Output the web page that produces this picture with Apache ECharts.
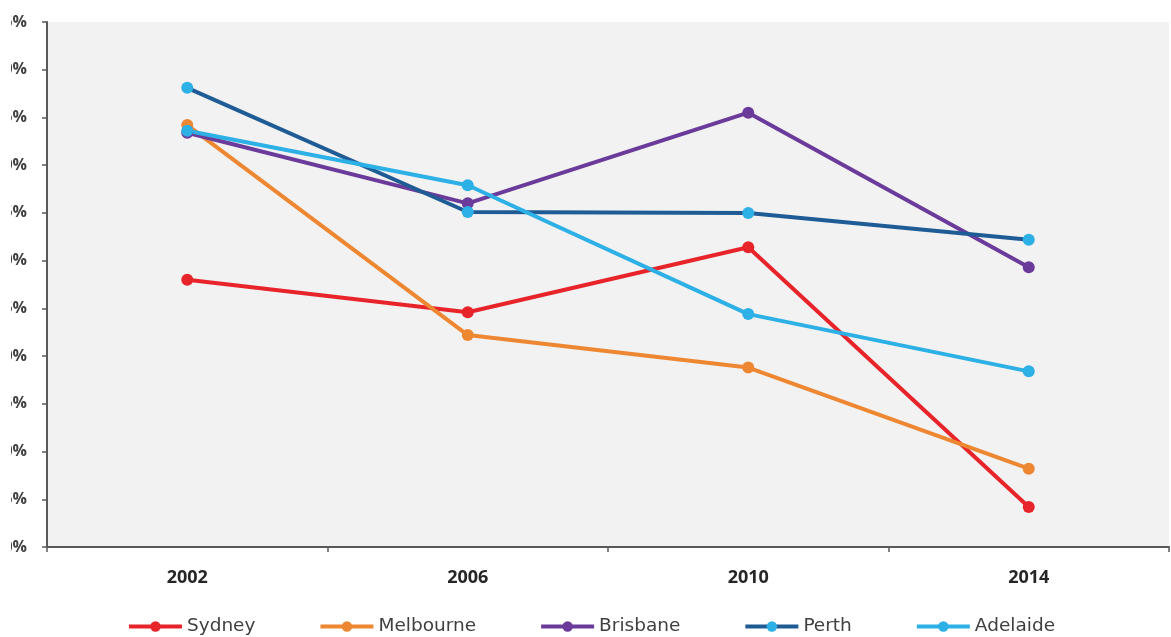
<!DOCTYPE html>
<html>
<head>
<meta charset="utf-8">
<script src="https://cdn.jsdelivr.net/npm/echarts@6/dist/echarts.min.js"></script>
<style>
  html, body { margin: 0; padding: 0; background: #ffffff; }
  #chart { position: absolute; left: 11px; top: 0; width: 1160px; height: 637px; }
</style>
</head>
<body>
<div id="chart"></div>
<script>
// Survey years on the category axis
const years = ['2002', '2006', '2010', '2014'];

// Share (%) per city per survey year
const sydney    = [28.0, 24.6, 31.4, 4.2];
const melbourne = [44.2, 22.2, 18.8, 8.2];
const brisbane  = [43.4, 36.0, 45.5, 29.3];
const perth     = [48.1, 35.1, 35.0, 32.2];
const adelaide  = [43.6, 37.9, 24.4, 18.4];

// Value axis range and step
const yMin = 0;
const yMax = 55;
const yStep = 5;

function lineSeries(name, data, lineColor, markerColor) {
  return {
    name: name,
    type: 'line',
    data: data,
    symbol: 'circle',
    symbolSize: 12,
    lineStyle: { color: lineColor, width: 4 },
    itemStyle: { color: markerColor || lineColor },
    emphasis: { disabled: true },
    z: 2
  };
}

const chart = echarts.init(document.getElementById('chart'), null, { renderer: 'canvas' });

chart.setOption({
  animation: false,
  backgroundColor: '#ffffff',
  grid: {
    left: 36,
    right: 2,
    top: 22,
    bottom: 90,
    containLabel: false,
    outerBoundsMode: 'none',
    show: true,
    backgroundColor: '#f2f2f2',
    borderWidth: 0
  },
  legend: {
    top: 612,
    left: 'center',
    itemGap: 63,
    itemWidth: 53,
    itemHeight: 13,
    lineStyle: { width: 4 },
    textStyle: {
      fontFamily: 'DejaVu Sans',
      fontSize: 18.5,
      color: '#404040'
    },
    data: ['Sydney', 'Melbourne', 'Brisbane', 'Perth', 'Adelaide']
  },
  xAxis: {
    type: 'category',
    data: years,
    boundaryGap: true,
    axisLine: { show: true, lineStyle: { color: '#595959', width: 2 } },
    axisTick: { show: true, length: 5, interval: 0, lineStyle: { color: '#595959', width: 1.5 } },
    axisLabel: {
      margin: 22,
      fontFamily: 'Open Sans',
      fontWeight: 'bold',
      fontSize: 18,
      color: '#262626'
    },
    splitLine: { show: false }
  },
  yAxis: {
    type: 'value',
    min: yMin,
    max: yMax,
    interval: yStep,
    axisLine: { show: true, lineStyle: { color: '#595959', width: 2 } },
    axisTick: { show: true, length: 5, lineStyle: { color: '#595959', width: 1.5 } },
    axisLabel: {
      margin: 20,
      fontFamily: 'Open Sans',
      fontWeight: 'bold',
      fontSize: 16,
      color: '#404040',
      formatter: '{value}%'
    },
    splitLine: { show: false }
  },
  series: [
    lineSeries('Sydney', sydney, '#e8242b'),
    lineSeries('Melbourne', melbourne, '#ee8732'),
    lineSeries('Brisbane', brisbane, '#6b3b9b'),
    lineSeries('Perth', perth, '#1f5c96', '#2cb0e6'),
    lineSeries('Adelaide', adelaide, '#2cb0e6')
  ]
});
</script>
</body>
</html>
